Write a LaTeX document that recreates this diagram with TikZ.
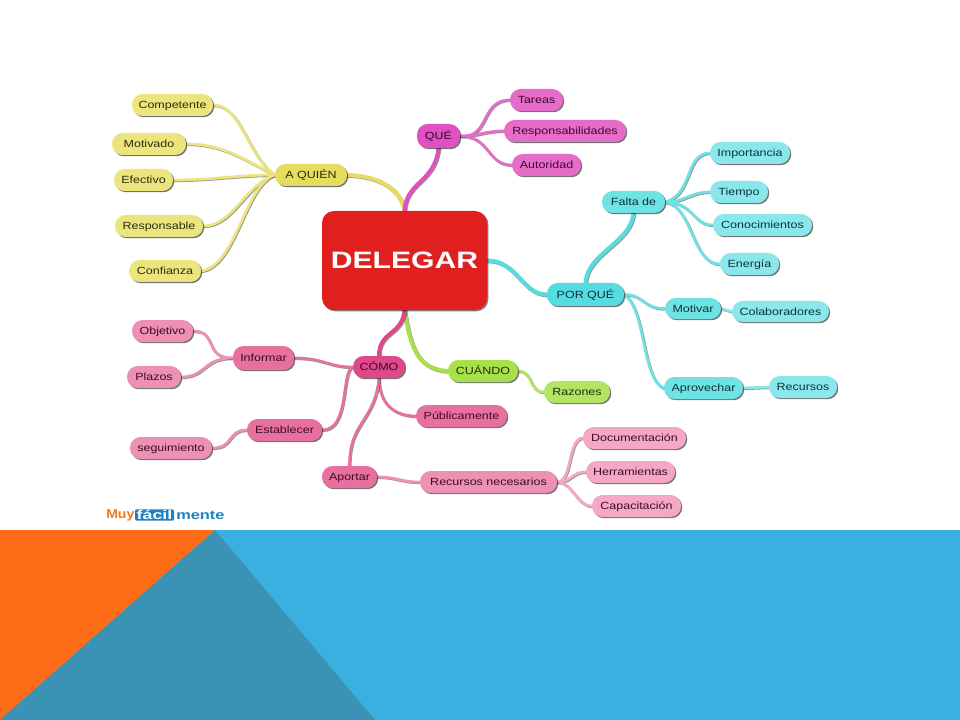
\documentclass[tikz,border=0pt]{standalone}
\usepackage{fontspec}
\setmainfont[FakeStretch=1.2]{Liberation Sans}
\newfontfamily\bigfont[FakeStretch=1.27]{Liberation Sans Bold}
\newfontfamily\logofont[FakeStretch=1.1]{Liberation Sans Bold}
\newfontfamily\logowide[FakeStretch=1.4]{Liberation Sans Bold}
\newfontfamily\logomid[FakeStretch=1.28]{Liberation Sans Bold}
\usetikzlibrary{shadows,backgrounds}
\definecolor{bandblue}{HTML}{39B0E0}
\definecolor{bandorange}{HTML}{FF6C17}
\definecolor{banddark}{HTML}{3A93B4}
\definecolor{yA}{HTML}{E6DC5E}\definecolor{yB}{HTML}{ECE57E}\definecolor{yT}{HTML}{2C2C0C}
\definecolor{mA}{HTML}{E050C0}\definecolor{mB}{HTML}{E66CC8}\definecolor{mT}{HTML}{3A0A32}
\definecolor{cA}{HTML}{55DCE0}\definecolor{cB}{HTML}{6EE2E4}\definecolor{cC}{HTML}{8AE8EC}\definecolor{cT}{HTML}{0A343A}
\definecolor{gA}{HTML}{A8E04C}\definecolor{gB}{HTML}{B4E464}\definecolor{gT}{HTML}{22300C}
\definecolor{pA}{HTML}{E0488C}\definecolor{pB}{HTML}{E8709F}\definecolor{pC}{HTML}{EE90B4}\definecolor{pD}{HTML}{F4A8C6}\definecolor{pT}{HTML}{3C0C26}
\definecolor{redbox}{HTML}{E01F1F}
\definecolor{logoorange}{HTML}{F07A20}
\definecolor{logoblue}{HTML}{1C82C0}
\tikzset{
  x=0.75pt,y=-0.75pt,
  bubble/.style n args={2}{rounded corners=8pt,fill=#1,text=#2,font=\fontsize{7.8pt}{10pt}\selectfont,inner sep=0pt,
    text height=5.6pt,text depth=0.3pt,
    drop shadow={shadow xshift=0.9pt,shadow yshift=-0.9pt,fill=black,opacity=0.55}},
  coreshape/.style={rounded corners=9pt,fill=redbox,text=white,font=\bigfont\fontsize{17.8pt}{20pt}\selectfont,inner sep=0pt,
    drop shadow={shadow xshift=1pt,shadow yshift=-1pt,fill=black,opacity=0.5}},
  linkunder/.style={draw=black!75,line width=#1,opacity=0.55,transform canvas={xshift=0.6pt,yshift=-0.6pt},line cap=round},
  linkover/.style n args={2}{draw=#1,line width=#2,line cap=round},
  logotext/.style={font=\logofont\fontsize{9.6pt}{11pt}\selectfont,inner sep=0pt},
}
\newcommand\bx[7]{\node[#2,minimum width={(#4-#3)*0.75pt},minimum height={(#6-#5)*0.75pt}] (#1) at ({(#3+#4)/2},{(#5+#6)/2}) {#7};}
\newcommand\lnk[2]{\draw[linkunder=2pt] #2; \draw[linkover={#1}{2pt}] #2;}
\newcommand\lnkm[2]{\draw[linkunder=3pt] #2; \draw[linkover={#1}{3pt}] #2;}
\begin{document}
\begin{tikzpicture}
\useasboundingbox (0,0) rectangle (960,720);
\bx{core}{coreshape}{322}{487}{211}{310}{DELEGAR}
% yellow
\bx{aq}{bubble={yA}{yT}}{275}{347}{164}{186}{A QUIÉN}
\bx{comp}{bubble={yB}{yT}}{132}{213}{94}{116}{Competente}
\bx{moti}{bubble={yB}{yT}}{112}{186}{133}{155}{Motivado}
\bx{efec}{bubble={yB}{yT}}{114}{173}{169}{191}{Efectivo}
\bx{resp}{bubble={yB}{yT}}{115}{203}{215}{237}{Responsable}
\bx{conf}{bubble={yB}{yT}}{129}{201}{260}{282}{Confianza}
% magenta
\bx{que}{bubble={mA}{mT}}{417}{460}{124}{148}{QUÉ}
\bx{tare}{bubble={mB}{mT}}{510}{563}{89}{111}{Tareas}
\bx{rbil}{bubble={mB}{mT}}{504}{626}{120}{142}{Responsabilidades}
\bx{auto}{bubble={mB}{mT}}{512}{581}{154}{176}{Autoridad}
% cyan
\bx{porq}{bubble={cA}{cT}}{547}{624}{283}{306}{POR QUÉ}
\bx{falt}{bubble={cB}{cT}}{602}{665}{191}{213}{Falta de}
\bx{impo}{bubble={cC}{cT}}{710}{790}{142}{164}{Importancia}
\bx{tiem}{bubble={cC}{cT}}{710}{768}{181}{203}{Tiempo}
\bx{cono}{bubble={cC}{cT}}{713}{812}{214}{236}{Conocimientos}
\bx{ener}{bubble={cC}{cT}}{720}{779}{253}{275}{Energía}
\bx{moti2}{bubble={cB}{cT}}{665}{721}{298}{319}{Motivar}
\bx{cola}{bubble={cC}{cT}}{732}{829}{301}{322}{Colaboradores}
\bx{apro}{bubble={cB}{cT}}{664}{743}{377}{399}{Aprovechar}
\bx{recu}{bubble={cC}{cT}}{769}{837}{376}{398}{Recursos}
% green
\bx{cuan}{bubble={gA}{gT}}{448}{518}{360}{382}{CUÁNDO}
\bx{razo}{bubble={gB}{gT}}{544}{610}{381}{403}{Razones}
% pink
\bx{como}{bubble={pA}{pT}}{353}{405}{356}{378}{CÓMO}
\bx{info}{bubble={pB}{pT}}{233}{294}{346}{370}{Informar}
\bx{obje}{bubble={pC}{pT}}{132}{193}{320}{342}{Objetivo}
\bx{plaz}{bubble={pC}{pT}}{127}{181}{366}{388}{Plazos}
\bx{esta}{bubble={pB}{pT}}{247}{322}{419}{441}{Establecer}
\bx{segu}{bubble={pC}{pT}}{130}{212}{437}{459}{seguimiento}
\bx{publ}{bubble={pB}{pT}}{416}{507}{405}{427}{Públicamente}
\bx{apor}{bubble={pB}{pT}}{322}{377}{466}{488}{Aportar}
\bx{rnec}{bubble={pC}{pT}}{420}{557}{471}{493}{Recursos necesarios}
\bx{docu}{bubble={pD}{pT}}{583}{686}{427}{449}{Documentación}
\bx{herr}{bubble={pD}{pT}}{586}{675}{461}{483}{Herramientas}
\bx{capa}{bubble={pD}{pT}}{592}{681}{495}{517}{Capacitación}
% logo
\node[logotext,text=logoorange,anchor=west] (lmuy) at (106,515) {Muy};
\node[logotext,font=\logowide\fontsize{9.6pt}{11pt}\selectfont,text=white,fill=logoblue,rounded corners=1.5pt,minimum width=29.25pt,minimum height=8.6pt] (lfac) at (154.5,515) {fácil};
\node[logotext,font=\logomid\fontsize{9.6pt}{11pt}\selectfont,text=logoblue,anchor=west] (lmen) at (176,515) {mente};
\begin{pgfonlayer}{background}
\fill[white] (0,0) rectangle (960,720);
\fill[bandblue] (0,530) rectangle (960,720);
\fill[bandorange] (0,530) -- (215,530) -- (0,720) -- cycle;
\fill[banddark] (215,530) -- (375,720) -- (0,720) -- cycle;
% from the core
\lnkm{yA}{(aq.east) .. controls +(32,1) and +(-4,-22) .. (core.north)}
\lnkm{mA}{(que.south) .. controls +(-4,35) and +(2,-30) .. (core.north)}
\lnkm{cA}{(core.east) .. controls +(30,0) and +(-25,0) .. (porq.west)}
\lnkm{gA}{(core.south) .. controls +(6,38) and +(-30,-2) .. (cuan.west)}
\lnkm{pA}{(core.south) .. controls +(-2,25) and +(0,-25) .. (como.north)}
% yellow
\lnk{yB}{(comp.east) .. controls +(28,0) and +(-28,-20) .. (aq.west)}
\lnk{yB}{(moti.east) .. controls +(35,0) and +(-35,-18) .. (aq.west)}
\lnk{yB}{(efec.east) .. controls +(40,0) and +(-40,0) .. (aq.west)}
\lnk{yB}{(resp.east) .. controls +(30,0) and +(-30,10) .. (aq.west)}
\lnk{yB}{(conf.east) .. controls +(35,-5) and +(-30,10) .. (aq.west)}
% magenta
\lnk{mB}{(que.east) .. controls +(30,3) and +(-30,0) .. (tare.west)}
\lnk{mB}{(que.east) .. controls +(20,0) and +(-20,0) .. (rbil.west)}
\lnk{mB}{(que.east) .. controls +(30,0) and +(-25,0) .. (auto.west)}
% cyan
\lnkm{cA}{(falt.south) .. controls +(-3,30) and +(2,-30) .. (porq.north)}
\lnk{cB}{(falt.east) .. controls +(28,-8) and +(-25,0) .. (impo.west)}
\lnk{cB}{(falt.east) .. controls +(20,0) and +(-20,0) .. (tiem.west)}
\lnk{cB}{(falt.east) .. controls +(28,0) and +(-20,0) .. (cono.west)}
\lnk{cB}{(falt.east) .. controls +(28,5) and +(-28,0) .. (ener.west)}
\lnk{cB}{(porq.east) .. controls +(20,0) and +(-22,0) .. (moti2.west)}
\lnk{cB}{(porq.east) .. controls +(22,15) and +(-22,-8) .. (apro.west)}
\lnk{cC}{(moti2.east) -- (cola.west)}
\lnk{cC}{(apro.east) -- (recu.west)}
% green
\lnk{gB}{(cuan.east) .. controls +(15,0) and +(-15,0) .. (razo.west)}
% pink
\lnk{pB}{(info.east) .. controls +(30,0) and +(-25,0) .. (como.west)}
\lnk{pB}{(esta.east) .. controls +(28,0) and +(-12,4) .. (como.west)}
\lnk{pB}{(como.south) .. controls +(0,25) and +(-22,0) .. (publ.west)}
\lnk{pB}{(apor.north) .. controls +(0,-45) and +(-5,45) .. (como.south)}
\lnk{pC}{(apor.east) .. controls +(20,0) and +(-20,0) .. (rnec.west)}
\lnk{pC}{(obje.east) .. controls +(25,0) and +(-30,0) .. (info.west)}
\lnk{pC}{(plaz.east) .. controls +(25,0) and +(-30,0) .. (info.west)}
\lnk{pC}{(segu.east) .. controls +(22,0) and +(-20,0) .. (esta.west)}
\lnk{pD}{(rnec.east) .. controls +(15,0) and +(-15,0) .. (docu.west)}
\lnk{pD}{(rnec.east) .. controls +(15,0) and +(-15,0) .. (herr.west)}
\lnk{pD}{(rnec.east) .. controls +(15,0) and +(-15,0) .. (capa.west)}
\end{pgfonlayer}
\end{tikzpicture}
\end{document}
